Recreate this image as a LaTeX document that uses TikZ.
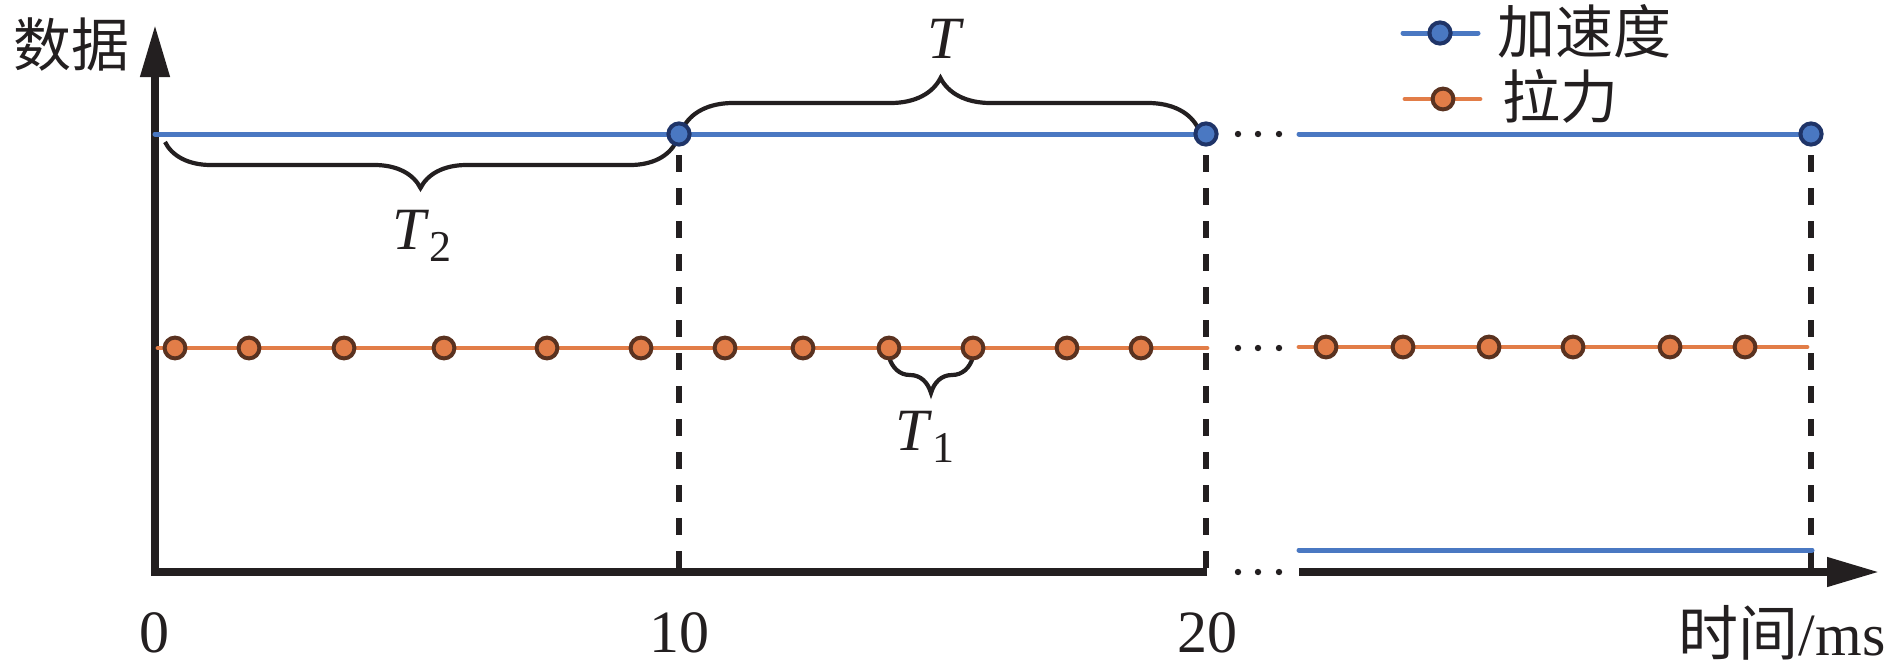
\documentclass[tikz,border=0pt]{standalone}
\usepackage{fontspec}
\setmainfont{Liberation Serif}
\newfontfamily\cjk{Noto Sans CJK SC}
\usetikzlibrary{arrows.meta,decorations.pathreplacing}
\definecolor{ablue}{HTML}{4A78C2}
\definecolor{anavy}{HTML}{1F3468}
\definecolor{aorange}{HTML}{E27D48}
\definecolor{abrown}{HTML}{5A3220}
\definecolor{ink}{HTML}{231F20}
\newcommand{\lowidx}[1]{\raisebox{-0.45ex}{\fontsize{22}{22}\selectfont #1}}
\begin{document}
\begin{tikzpicture}[x=0.5pt,y=-0.5pt,
  lbl/.style={inner sep=0pt,font=\fontsize{30}{34}\selectfont,text=ink},
  cjklbl/.style={inner sep=0pt,font=\fontsize{29}{34}\selectfont\cjk,text=ink},
  axisline/.style={draw=ink,line width=3.8pt,line join=miter},
  dashv/.style={draw=ink,line width=3.1pt,dash pattern=on 8.5pt off 8pt},
  bline/.style={draw=ablue,line width=2.5pt,line cap=round},
  oline/.style={draw=aorange,line width=2.4pt,line cap=round},
  bdot/.style={circle,draw=anavy,fill=ablue,line width=2pt,minimum size=10.6pt,inner sep=0pt},
  odot/.style={circle,draw=abrown,fill=aorange,line width=2pt,minimum size=10.4pt,inner sep=0pt},
  bracestyle/.style={draw=ink,line width=2.1pt,decorate},
  tipstyle/.style={-{Triangle[length=26pt,width=14pt]}}
]
\useasboundingbox (0,0) rectangle (1890,670);

% dashed verticals
\coordinate (d1t) at (679,155); \coordinate (d1b) at (679,572);
\coordinate (d2t) at (1206,155); \coordinate (d2b) at (1206,572);
\coordinate (d3t) at (1811,155); \coordinate (d3b) at (1811,572);
\draw[dashv] (d1t) -- (d1b);
\draw[dashv] (d2t) -- (d2b);
\draw[dashv] (d3t) -- (d3b);

% axes
\coordinate (o) at (155,572);
\coordinate (ytip) at (155,25);
\coordinate (xend1) at (1207,572);
\coordinate (xstart2) at (1299,572);
\coordinate (xtip) at (1879,572);
\draw[axisline,tipstyle] (xend1) -- (o) -- (ytip);
\draw[axisline,tipstyle] (xstart2) -- (xtip);

% blue (acceleration) lines
\coordinate (bs1) at (155,134);
\coordinate (bs2) at (1299,134);
\coordinate (ls) at (1299,550);
\coordinate (le) at (1812,550);
\coordinate (b1c) at (679,134);
\coordinate (b2c) at (1206,134);
\coordinate (b3c) at (1811,134);
\draw[bline] (bs1) -- (b2c);
\draw[bline] (bs2) -- (b3c);
\draw[bline] (ls) -- (le);

% braces (drawn before the dots so the dots sit on top)
\coordinate (t2r) at (676,142);
\coordinate (t2l) at (165,142);
\draw[bracestyle,decoration={brace,amplitude=23pt}] (t2r) -- (t2l);
\node[lbl] (t2) at (422,236) {\textit{T}\lowidx{2}};

\coordinate (tl) at (683,128);
\coordinate (tr) at (1198,128);
\draw[bracestyle,decoration={brace,amplitude=25pt}] (tl) -- (tr);
\node[lbl] (t) at (946,39) {\textit{T}};

\coordinate (t1r) at (973,357);
\coordinate (t1l) at (889,357);
\draw[bracestyle,decoration={brace,amplitude=18pt}] (t1r) -- (t1l);
\node[lbl] (t1) at (925,437) {\textit{T}\lowidx{1}};

\node[bdot] (b1) at (b1c) {};
\node[bdot] (b2) at (b2c) {};
\node[bdot] (b3) at (b3c) {};

% orange (force) lines
\coordinate (os1) at (158,348);
\coordinate (oe1) at (1207,348);
\coordinate (os2) at (1299,347);
\coordinate (oe2) at (1807,347);
\draw[oline] (os1) -- (oe1);
\draw[oline] (os2) -- (oe2);
\foreach \x [count=\i] in {175,249,344,444,547,641,725,803,889,973,1067,1141}
  \node[odot] (oa\i) at (\x,348) {};
\foreach \x [count=\i] in {1326,1403,1489,1573,1670,1745}
  \node[odot] (ob\i) at (\x,347) {};

% ellipses
\foreach \y in {134,348,572}
  \foreach \x in {1238,1258,1279}
    \fill[ink] (\x,\y) circle[radius=1.6pt];

% tick labels
\node[lbl] (l0) at (154,633) {0};
\node[lbl] (l10) at (679,633) {10};
\node[lbl] (l20) at (1207,633) {20};
\node[lbl,anchor=east] (xl) at (1886,633) {{\cjk 时间}/ms};
\node[cjklbl,anchor=west] (yl) at (13,45) {数据};

% legend
\coordinate (lg1a) at (1403,33); \coordinate (lg1b) at (1478,33);
\draw[bline] (lg1a) -- (lg1b);
\node[bdot] (lgb) at (1440,33) {};
\node[cjklbl,anchor=west] (lgbt) at (1497,31) {加速度};
\coordinate (lg2a) at (1405,99); \coordinate (lg2b) at (1480,99);
\draw[oline] (lg2a) -- (lg2b);
\node[odot] (lgo) at (1443,99) {};
\node[cjklbl,anchor=west] (lgot) at (1502,96) {拉力};
\end{tikzpicture}
\end{document}
